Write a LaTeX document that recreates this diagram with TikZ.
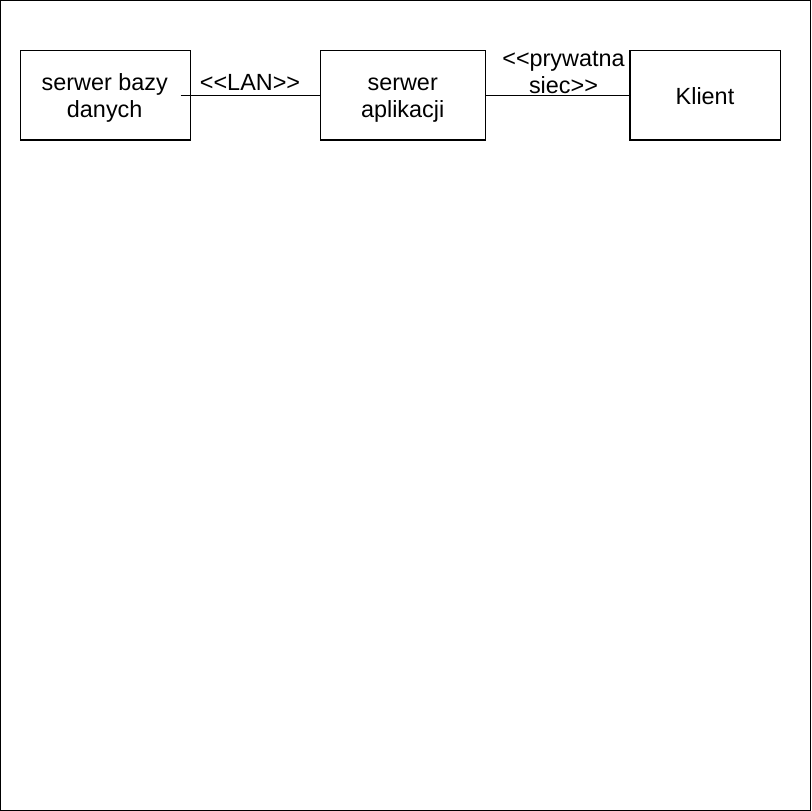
\documentclass[tikz,border=0pt]{standalone}
\usepackage{fontspec}
\setmainfont{Liberation Sans}
\newcommand{\firststrut}{\rule{0pt}{18pt}}
\begin{document}
\begin{tikzpicture}[x=1pt,y=-1pt,
  every node/.style={font=\fontsize{23.4}{26.6}\selectfont, align=center, inner sep=0pt},
  box/.style={draw, line width=1.2pt, minimum height=89.3pt},
  link/.style={line width=1.2pt},
  txt/.style={anchor=north},
  lbl/.style={anchor=base}]
\useasboundingbox (0,0) rectangle (812,811);
\draw[line width=1.4pt] (0.7,0.7) rectangle (810.3,810.3);
\node[box, minimum width=170pt] (db) at (105.7,95.3) {};
\node[box, minimum width=165pt] (app) at (403.2,95.3) {};
\node[box, minimum width=150.7pt] (cl) at (705.3,95.3) {};
\node[txt] (dbtext) at (104.7,72.7) {\firststrut serwer bazy\\danych};
\node[txt] (apptext) at (402.7,72.7) {\firststrut serwer\\aplikacji};
\node[lbl] (cltext) at (705,104.3) {Klient};
\coordinate (dbend) at (180.7,95.3);
\draw[link] (dbend) -- (app.west);
\draw[link] (app.east) -- (cl.west);
\node[lbl] (lan) at (250,90) {<{}<LAN>{}>};
\node[txt] (priv) at (563.5,48.7) {\firststrut <{}<prywatna\\siec>{}>};
\end{tikzpicture}
\end{document}
